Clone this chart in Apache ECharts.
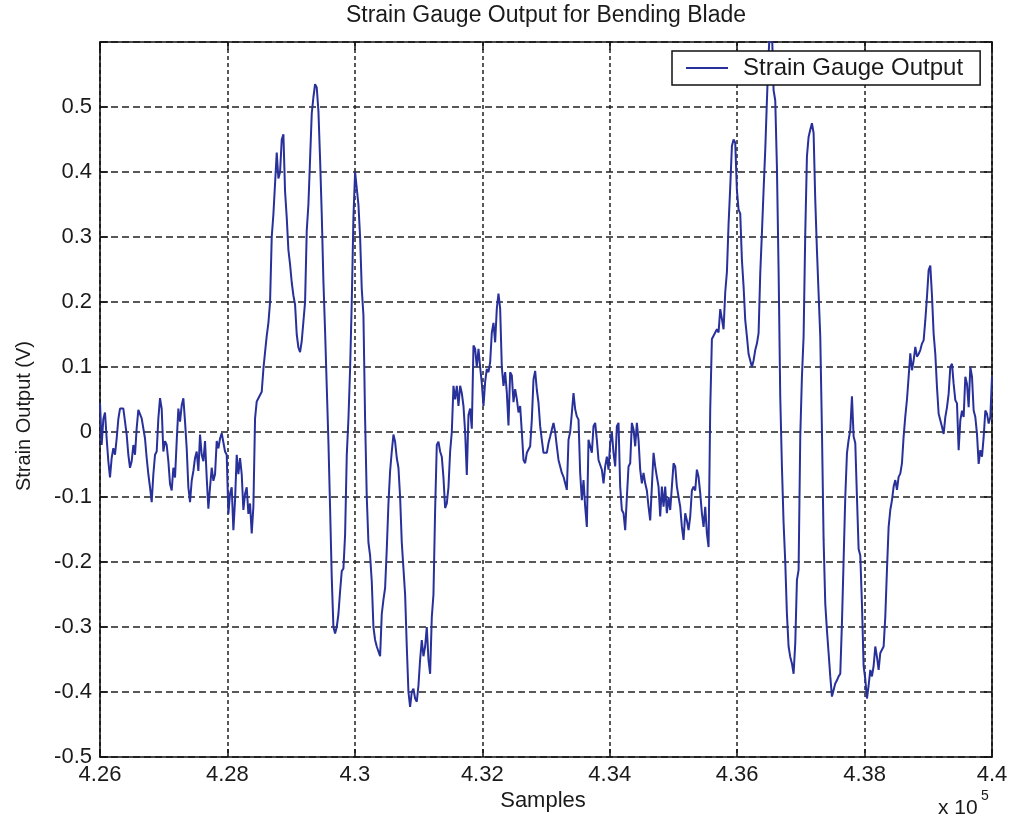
<!DOCTYPE html>
<html>
<head>
<meta charset="utf-8">
<script src="https://cdn.jsdelivr.net/npm/echarts@6/dist/echarts.min.js"></script>
<style>
html,body{margin:0;padding:0;background:#fff;}
#chart{width:1012px;height:824px;}
</style>
</head>
<body>
<div id="chart"></div>
<script>
// ---- data ----
const chartTitle = 'Strain Gauge Output for Bending Blade';
const xLabel = 'Samples';
const yLabel = 'Strain Output (V)';
const seriesName = 'Strain Gauge Output';
const sampleStart = 426000;   // first sample shown
const sampleEnd = 440000;     // last sample shown
const xTickValues = [426000, 428000, 430000, 432000, 434000, 436000, 438000, 440000];
const yTickValues = [-0.5, -0.4, -0.3, -0.2, -0.1, 0, 0.1, 0.2, 0.3, 0.4, 0.5];
// strain gauge output (V), evenly spaced over the sample range
const strainOutput = [
0.045,-0.02,0.02,0.03,-0.01,-0.045,-0.07,-0.04,-0.025,-0.035,
-0.01,0.02,0.036,0.036,0.036,0.033,-0.004,-0.035,-0.055,-0.045,
-0.02,-0.035,0.006,0.034,0.031,0.021,0.021,-0.01,-0.04,-0.065,
-0.085,-0.108,-0.065,-0.035,-0.03,0.021,0.052,0.036,-0.03,-0.014,
-0.02,-0.045,-0.08,-0.09,-0.055,-0.07,-0.014,0.036,0.016,0.041,
0.052,0.016,-0.025,-0.085,-0.108,-0.075,-0.06,-0.04,-0.03,-0.06,
-0.004,-0.035,-0.045,-0.014,-0.07,-0.118,-0.085,-0.055,-0.075,-0.065,
-0.014,-0.025,-0.01,-0.002,-0.004,-0.03,-0.035,-0.126,-0.095,-0.085,
-0.151,-0.105,-0.035,-0.065,-0.04,-0.065,-0.12,-0.095,-0.085,-0.126,
-0.11,-0.156,-0.115,0.021,0.047,0.052,0.052,0.062,0.097,0.123,
0.148,0.168,0.2,0.3,0.335,0.335,0.43,0.39,0.4,0.45,
0.458,0.37,0.33,0.28,0.258,0.23,0.21,0.196,0.15,0.13,
0.123,0.14,0.17,0.2,0.31,0.35,0.42,0.49,0.515,0.535,
0.53,0.494,0.42,0.335,0.232,0.155,0.07,-0.015,-0.117,-0.224,
-0.3,-0.31,-0.3,-0.28,-0.245,-0.214,-0.21,-0.158,-0.036,0.02,
0.097,0.2,0.33,0.4,0.4,0.35,0.3,0.22,0.18,0.02,
-0.1,-0.17,-0.19,-0.23,-0.3,-0.32,-0.33,-0.33,-0.345,-0.28,
-0.258,-0.24,-0.18,-0.11,-0.06,-0.03,-0.004,-0.015,-0.04,-0.055,
-0.1,-0.17,-0.21,-0.25,-0.33,-0.4,-0.423,-0.4,-0.395,-0.41,
-0.415,-0.39,-0.35,-0.32,-0.345,-0.33,-0.3,-0.35,-0.372,-0.285,
-0.25,-0.12,-0.02,-0.015,-0.03,-0.038,-0.07,-0.117,-0.11,-0.085,
-0.03,0.0,0.071,0.05,0.071,0.04,0.071,0.06,0.04,0.0,
-0.066,0.026,0.036,0.005,0.133,0.128,0.1,0.128,0.1,0.075,
0.04,0.077,0.097,0.092,0.107,0.153,0.168,0.138,0.19,0.213,
0.19,0.1,0.071,0.092,0.061,0.01,0.092,0.087,0.046,0.066,
0.051,0.03,0.04,0.0,-0.043,-0.048,-0.032,-0.027,-0.022,0.019,
0.081,0.094,0.065,0.045,0.009,-0.012,-0.032,-0.032,-0.032,-0.017,
-0.007,0.004,0.014,0.0,-0.022,-0.043,-0.053,-0.063,-0.069,-0.079,
-0.089,-0.012,0.0,0.029,0.06,0.035,0.024,0.019,-0.063,-0.105,
-0.074,-0.115,-0.146,-0.012,-0.022,-0.032,0.009,0.014,-0.012,-0.043,
-0.043,-0.058,-0.079,-0.053,-0.038,-0.058,-0.017,0.0,-0.032,-0.053,
0.009,0.014,-0.084,-0.12,-0.125,-0.151,-0.1,-0.053,-0.048,0.014,
0.004,-0.022,0.014,-0.012,-0.058,-0.079,-0.063,-0.079,-0.09,-0.115,
-0.136,-0.084,-0.032,-0.053,-0.069,-0.084,-0.13,-0.084,-0.115,-0.084,
-0.125,-0.1,-0.12,-0.084,-0.048,-0.053,-0.084,-0.1,-0.115,-0.146,
-0.166,-0.125,-0.136,-0.151,-0.13,-0.09,-0.084,-0.09,-0.058,-0.069,
-0.094,-0.125,-0.146,-0.115,-0.156,-0.177,0.035,0.143,0.148,0.15,
0.158,0.153,0.189,0.174,0.158,0.215,0.246,0.32,0.377,0.44,
0.45,0.445,0.372,0.342,0.336,0.265,0.224,0.172,0.147,0.12,
0.11,0.1,0.11,0.126,0.136,0.152,0.244,0.306,0.372,0.434,
0.51,0.58,0.63,0.62,0.526,0.51,0.408,0.25,0.054,-0.053,
-0.14,-0.2,-0.28,-0.33,-0.346,-0.356,-0.372,-0.325,-0.228,-0.212,
-0.007,0.085,0.147,0.306,0.424,0.454,0.465,0.475,0.46,0.357,
0.28,0.213,0.147,0.003,-0.166,-0.264,-0.305,-0.34,-0.376,-0.407,
-0.397,-0.387,-0.382,-0.376,-0.372,-0.294,-0.197,-0.1,-0.033,-0.012,
0.003,0.055,-0.007,-0.017,-0.1,-0.18,-0.19,-0.264,-0.36,-0.38,
-0.41,-0.39,-0.366,-0.376,-0.36,-0.33,-0.346,-0.366,-0.34,-0.335,
-0.33,-0.284,-0.212,-0.146,-0.12,-0.105,-0.084,-0.074,-0.089,-0.069,
-0.064,-0.048,-0.007,0.024,0.05,0.085,0.121,0.095,0.11,0.131,
0.116,0.12,0.126,0.136,0.141,0.172,0.208,0.249,0.256,0.21,
0.151,0.12,0.069,0.028,0.018,0.008,-0.003,0.023,0.038,0.059,
0.1,0.105,0.074,0.049,0.044,-0.028,0.018,0.033,0.023,0.085,
0.074,0.038,0.1,0.085,0.033,0.023,-0.003,-0.049,-0.028,-0.038,
-0.008,0.033,0.028,0.013,0.023,0.085
];

// ---- chart ----
const FONT = "'Liberation Sans', Arial, sans-serif";
const INK = '#1a1a1a';
const LINE_BLUE = '#28309a';
const n = strainOutput.length;
const step = (sampleEnd - sampleStart) / (n - 1);
const seriesData = strainOutput.map((v, i) => [sampleStart + i * step, v]);

const xMin = xTickValues[0], xMax = xTickValues[xTickValues.length - 1];
const xInterval = xTickValues[1] - xTickValues[0];
const yMin = yTickValues[0];
const yInterval = 0.1;
const yMax = 0.6;

function fmtX(v) { return String(parseFloat((v / 1e5).toFixed(2))); }
function fmtY(v) {
  const r = Math.round(v * 10) / 10;
  if (r > yTickValues[yTickValues.length - 1] + 1e-9) return '';
  return r === 0 ? '0' : String(r);
}

const frameLine = { show: true, onZero: false, lineStyle: { color: '#111', width: 1.6 } };
const tickStyle = { show: true, inside: true, length: 8, lineStyle: { color: '#111', width: 1.5 } };

const chart = echarts.init(document.getElementById('chart'), null, { renderer: 'canvas' });
chart.setOption({
  animation: false,
  backgroundColor: '#ffffff',
  grid: { left: 100, right: 20, top: 42, bottom: 67, containLabel: false },
  legend: {
    show: true,
    left: 672, top: 51,
    data: [{ name: seriesName, icon: 'rect' }],
    itemWidth: 42, itemHeight: 2,
    backgroundColor: '#ffffff',
    borderColor: '#111', borderWidth: 1.5, borderRadius: 0,
    padding: [5, 17, 5, 14],
    textStyle: { fontSize: 24, fontFamily: FONT, color: INK, padding: [0, 0, 0, 10] }
  },
  xAxis: [
    {
      type: 'value', position: 'bottom', min: xMin, max: xMax, interval: xInterval,
      axisLine: frameLine, axisTick: tickStyle,
      axisLabel: { formatter: fmtX, fontSize: 22, fontFamily: FONT, color: INK, margin: 7 },
      splitLine: { show: true, lineStyle: { type: [4, 3], color: '#222', width: 1.5 } }
    },
    {
      type: 'value', position: 'top', min: xMin, max: xMax, interval: xInterval,
      axisLine: frameLine, axisTick: tickStyle,
      axisLabel: { show: false }, splitLine: { show: false }
    }
  ],
  yAxis: [
    {
      type: 'value', position: 'left', min: yMin, max: yMax, interval: yInterval,
      axisLine: frameLine, axisTick: tickStyle,
      axisLabel: { formatter: fmtY, fontSize: 22, fontFamily: FONT, color: INK, margin: 8 },
      splitLine: { show: true, lineStyle: { type: [7, 4], color: '#222', width: 1.5 } }
    },
    {
      type: 'value', position: 'right', min: yMin, max: yMax, interval: yInterval,
      axisLine: frameLine, axisTick: tickStyle,
      axisLabel: { show: false }, splitLine: { show: false }
    }
  ],
  series: [{
    name: seriesName,
    type: 'line',
    xAxisIndex: 0, yAxisIndex: 0,
    data: seriesData,
    showSymbol: false,
    symbol: 'none',
    clip: true,
    color: LINE_BLUE,
    lineStyle: { color: LINE_BLUE, width: 2 },
    itemStyle: { color: LINE_BLUE }
  }],
  graphic: [
    { type: 'text', x: 546, y: 4, style: { text: chartTitle, align: 'center', verticalAlign: 'top', fontSize: 23, fontFamily: FONT, fill: INK } },
    { type: 'text', x: 543, y: 790, style: { text: xLabel, align: 'center', verticalAlign: 'top', fontSize: 22, fontFamily: FONT, fill: INK } },
    { type: 'text', x: 24, y: 416, rotation: Math.PI / 2, style: { text: yLabel, align: 'center', verticalAlign: 'middle', fontSize: 20, fontFamily: FONT, fill: INK } },
    { type: 'text', x: 938, y: 798, style: { text: 'x 10', align: 'left', verticalAlign: 'top', fontSize: 21, fontFamily: FONT, fill: INK } },
    { type: 'text', x: 981, y: 789, style: { text: '5', align: 'left', verticalAlign: 'top', fontSize: 14, fontFamily: FONT, fill: INK } }
  ]
});
</script>
</body>
</html>
